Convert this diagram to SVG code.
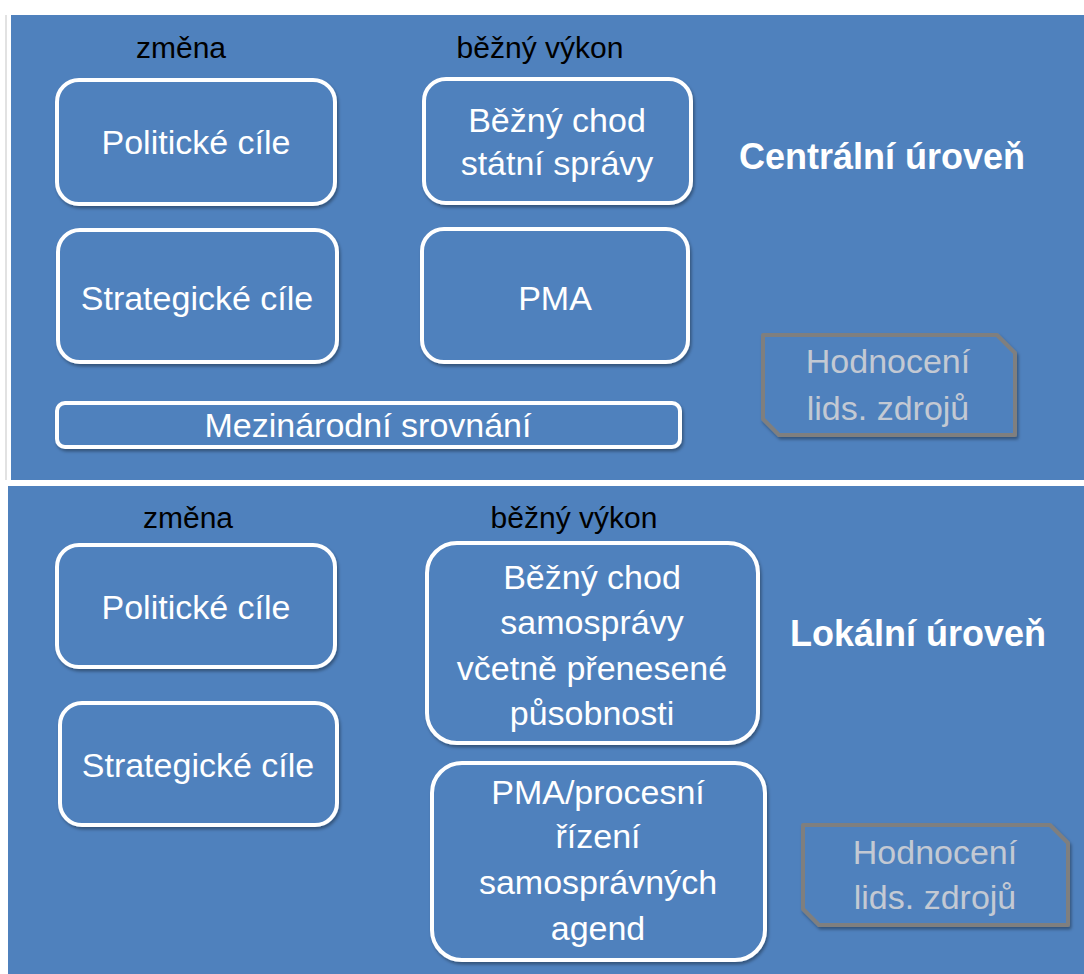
<svg xmlns="http://www.w3.org/2000/svg" width="1084" height="974" viewBox="0 0 1084 974">
<style>
.panel{fill:#4F81BD}
.box{fill:#4F81BD;stroke:#FFFFFF;stroke-width:4;filter:url(#sh)}
.snip{fill:#4F81BD;stroke:#7F7F7F;stroke-width:4;stroke-linejoin:round;filter:url(#sh)}
.t{font-family:"Liberation Sans",Arial,sans-serif;font-size:34px;fill:#FFFFFF;text-anchor:middle}
.lbl{font-family:"Liberation Sans",Arial,sans-serif;font-size:30px;fill:#000000;text-anchor:middle}
.title{font-family:"Liberation Sans",Arial,sans-serif;font-size:36px;font-weight:bold;fill:#FFFFFF;text-anchor:middle}
.g{font-family:"Liberation Sans",Arial,sans-serif;font-size:34px;fill:#C3C9D3;text-anchor:middle}
</style>
<defs>
<filter id="sh" x="-10%" y="-10%" width="125%" height="130%">
<feDropShadow dx="1.5" dy="2.5" stdDeviation="1.5" flood-color="#000" flood-opacity="0.35"/>
</filter>
</defs>
<rect x="0" y="0" width="1084" height="974" fill="#FFFFFF"/>
<line x1="6" y1="15" x2="6" y2="480" stroke="#D9D9D9" stroke-width="1.5"/>
<rect class="panel" x="11" y="15" width="1073" height="465"/>
<rect class="panel" x="8" y="486" width="1076" height="488"/>

<g id="labels">
<text class="lbl" x="181" y="58">změna</text>
<text class="lbl" x="540" y="58">běžný výkon</text>
<text class="title" x="882" y="169">Centrální úroveň</text>
<text class="lbl" x="188" y="528">změna</text>
<text class="lbl" x="574" y="528">běžný výkon</text>
<text class="title" x="918" y="646">Lokální úroveň</text>
</g>

<g id="c-politicke">
<rect class="box" x="57" y="80" width="278" height="124" rx="22"/>
<text class="t" x="196" y="154">Politické cíle</text>
</g>
<g id="c-bezny">
<rect class="box" x="424" y="79" width="267" height="124" rx="22"/>
<text class="t" x="557" y="132">Běžný chod</text>
<text class="t" x="557" y="175">státní správy</text>
</g>
<g id="c-strategicke">
<rect class="box" x="58" y="230" width="279" height="132" rx="22"/>
<text class="t" x="197" y="310">Strategické cíle</text>
</g>
<g id="c-pma">
<rect class="box" x="422" y="229" width="266" height="133" rx="22"/>
<text class="t" x="555" y="310">PMA</text>
</g>
<g id="c-mezinarodni">
<rect class="box" x="57" y="403" width="623" height="44" rx="8"/>
<text class="t" x="368" y="437">Mezinárodní srovnání</text>
</g>
<g id="c-hodnoceni">
<path class="snip" d="M763,335 H997 L1015,353 V435 H779 L763,419 Z"/>
<text class="g" x="888" y="373">Hodnocení</text>
<text class="g" x="888" y="420">lids. zdrojů</text>
</g>

<g id="l-politicke">
<rect class="box" x="57" y="545" width="278" height="122" rx="22"/>
<text class="t" x="196" y="619">Politické cíle</text>
</g>
<g id="l-strategicke">
<rect class="box" x="60" y="703" width="277" height="122" rx="22"/>
<text class="t" x="198" y="777">Strategické cíle</text>
</g>
<g id="l-bezny">
<rect class="box" x="427" y="543" width="331" height="200" rx="30"/>
<text class="t" x="592" y="589">Běžný chod</text>
<text class="t" x="592" y="634">samosprávy</text>
<text class="t" x="592" y="680">včetně přenesené</text>
<text class="t" x="592" y="725">působnosti</text>
</g>
<g id="l-pma">
<rect class="box" x="432" y="763" width="333" height="197" rx="30"/>
<text class="t" x="598" y="804">PMA/procesní</text>
<text class="t" x="598" y="848">řízení</text>
<text class="t" x="598" y="894">samosprávných</text>
<text class="t" x="598" y="940">agend</text>
</g>
<g id="l-hodnoceni">
<path class="snip" d="M803,825 H1050 L1068,843 V925 H819 L803,909 Z"/>
<text class="g" x="935" y="864">Hodnocení</text>
<text class="g" x="935" y="909">lids. zdrojů</text>
</g>

<g id="connectors"></g>
</svg>
